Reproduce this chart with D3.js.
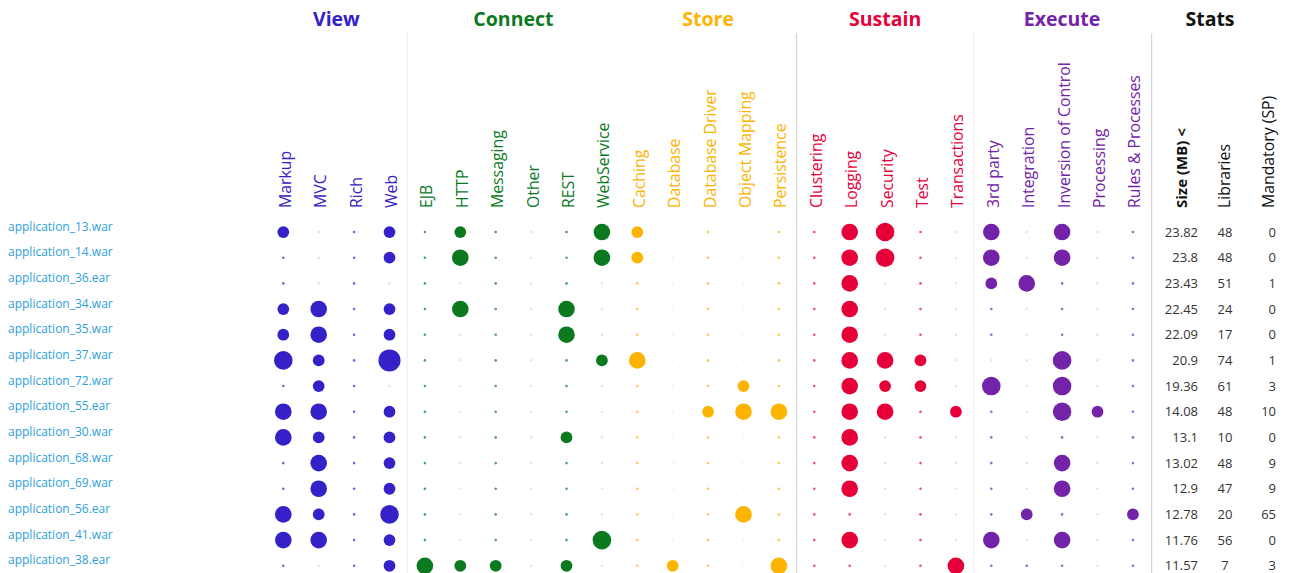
<!DOCTYPE html>
<html>
<head>
<meta charset="utf-8">
<script src="https://cdn.jsdelivr.net/npm/d3@7"></script>
<style>
  body { margin: 0; background: #fff; }
  text { font-family: "Open Sans", sans-serif; }
  .stat { font-family: "Liberation Sans Narrow", "Open Sans", sans-serif; }
</style>
</head>
<body>
<div id="chart"></div>
<script>
const $ = (element) => d3.select(element);

const groups = ["View", "Connect", "Store", "Sustain", "Execute"];
const groupColors = ["#3421c8", "#0b7a1f", "#fcb400", "#e6003a", "#7323a8"];
const groupColumns = [
  ["Markup", "MVC", "Rich", "Web"],
  ["EJB", "HTTP", "Messaging", "Other", "REST", "WebService"],
  ["Caching", "Database", "Database Driver", "Object Mapping", "Persistence"],
  ["Clustering", "Logging", "Security", "Test", "Transactions"],
  ["3rd party", "Integration", "Inversion of Control", "Processing", "Rules & Processes"],
];

const apps = [
  "application_13.war", "application_14.war", "application_36.ear", "application_34.war",
  "application_35.war", "application_37.war", "application_72.war", "application_55.ear",
  "application_30.war", "application_68.war", "application_69.war", "application_56.ear",
  "application_41.war", "application_38.ear",
];
const sizeMB = [23.82, 23.8, 23.43, 22.45, 22.09, 20.9, 19.36, 14.08, 13.1, 13.02, 12.9, 12.78, 11.76, 11.57];
const libraries = [48, 48, 51, 24, 17, 74, 61, 48, 10, 48, 47, 20, 56, 7];
const mandatory = [0, 0, 1, 0, 0, 1, 3, 10, 0, 9, 9, 65, 0, 3];

// libraries found per category, one list per application (null = category not scanned)
const _ = null;
const usage = [
  [2, _, 0, 2, 0, 2, 0, _, 0, 4, 2, _, 0, _, 0, 0, 4, 5, 0, _, 4, _, 4, _, 0],
  [0, _, 0, 2, 0, 4, 0, _, 0, 4, 2, _, 0, _, 0, 0, 4, 5, 0, _, 4, _, 4, _, 0],
  [0, _, 0, _, 0, _, 0, _, 0, _, 0, _, 0, _, 0, 0, 4, _, 0, _, 2, 4, 0, _, 0],
  [2, 4, 0, 2, 0, 4, 0, _, 4, _, 0, _, 0, _, 0, 0, 4, _, 0, _, 0, _, 0, _, 0],
  [2, 4, 0, 2, 0, _, 0, _, 4, _, 0, _, 0, _, 0, 0, 4, _, 0, _, 0, _, 0, _, 0],
  [5, 2, 0, 7, 0, _, 0, _, 0, 2, 4, _, 0, _, 0, 0, 4, 4, 2, _, _, _, 5, _, 0],
  [0, 2, 0, _, 0, _, 0, _, 0, _, 0, _, 0, 2, 0, 0, 4, 2, 2, _, 5, _, 5, _, 0],
  [4, 4, 0, 2, 0, _, 0, _, 0, _, 0, _, 2, 4, 4, 0, 4, 4, 0, 2, 0, _, 5, 2, 0],
  [4, 2, 0, 2, 0, _, 0, _, 2, _, 0, _, 0, _, 0, 0, 4, _, 0, _, 0, _, 0, _, 0],
  [0, 4, 0, 2, 0, _, 0, _, 0, _, 0, _, 0, _, 0, 0, 4, _, 0, _, 0, _, 4, _, 0],
  [0, 4, 0, 2, 0, _, 0, _, 0, _, 0, _, 0, _, 0, 0, 4, _, 0, _, 0, _, 4, _, 0],
  [4, 2, 0, 5, 0, _, 0, _, 0, _, 0, _, 0, 4, 0, 0, 0, _, 0, _, 0, 2, 0, _, 2],
  [4, 4, 0, 2, 0, _, 0, _, 0, 5, 0, _, 0, _, 0, 0, 4, _, 0, _, 4, _, 4, _, 0],
  [0, _, 0, 2, 4, 2, 2, _, 2, _, 0, 2, 0, _, 4, 0, 0, _, 0, 4, 0, 0, 0, _, 0],
];

const width = 1293;
const height = 573;

const columns = groupColumns.flatMap((cols, g) => cols.map((name) => ({ name, group: g })));

const x = d3.scaleBand().domain(columns.map((c) => c.name)).range([265.6, 1150.6]);
const y = d3.scaleBand().domain(apps).range([219.2, 578.6]);
const r = d3.scaleSqrt().domain([0, 7]).range([0, 11]);

const svg = $("#chart")
  .append("svg")
  .attr("width", width)
  .attr("height", height)
  .attr("viewBox", [0, 0, width, height]);

const cx = (name) => x(name) + x.bandwidth() / 2;
const cy = (app) => y(app) + y.bandwidth() / 2;

// group separators
const separators = [
  { at: x("EJB"), color: "#f0f0f0" },
  { at: x("Clustering"), color: "#d6d6d6" },
  { at: x("3rd party"), color: "#eeeeee" },
  { at: x.range()[1] + 1, color: "#d6d6d6" },
];
svg
  .selectAll("line.sep")
  .data(separators)
  .join("line")
  .attr("class", "sep")
  .attr("x1", (d) => d.at)
  .attr("x2", (d) => d.at)
  .attr("y1", 33)
  .attr("y2", height)
  .attr("stroke", (d) => d.color)
  .attr("stroke-width", 1.2);

// group titles
svg
  .selectAll("text.group")
  .data(groups)
  .join("text")
  .attr("class", "group")
  .attr("x", (g, i) => {
    const cols = groupColumns[i];
    return (cx(cols[0]) + cx(cols[cols.length - 1])) / 2;
  })
  .attr("y", 26)
  .attr("text-anchor", "middle")
  .attr("font-size", 19.5)
  .attr("font-weight", "bold")
  .attr("fill", (g, i) => groupColors[i])
  .text((g) => g);

svg
  .append("text")
  .attr("x", 1210)
  .attr("y", 26)
  .attr("text-anchor", "middle")
  .attr("font-size", 19.5)
  .attr("font-weight", "bold")
  .attr("fill", "#111")
  .text("Stats");

// column labels
svg
  .selectAll("text.col")
  .data(columns)
  .join("text")
  .attr("class", "col")
  .attr("transform", (d) => `translate(${cx(d.name) + 2},208) rotate(-90)`)
  .attr("dy", "0.35em")
  .attr("font-size", 15.8)
  .attr("fill", (d) => groupColors[d.group])
  .text((d) => d.name);

// application names
svg
  .selectAll("text.app")
  .data(apps)
  .join("text")
  .attr("class", "app")
  .attr("x", 8)
  .attr("y", (d) => cy(d) - 1.5)
  .attr("font-size", 12)
  .attr("fill", "#2d9fd9")
  .text((d) => d);

// dots
const cells = apps.flatMap((app, i) =>
  columns.map((col, j) => ({ app, col, value: usage[i][j] }))
);
svg
  .append("g")
  .selectAll("circle")
  .data(cells)
  .join("circle")
  .attr("cx", (d) => cx(d.col.name))
  .attr("cy", (d) => cy(d.app))
  .attr("r", (d) => (d.value ? r(d.value) : 1.3))
  .attr("fill", (d) => groupColors[d.col.group])
  .attr("opacity", (d) => (d.value === null ? 0.15 : d.value === 0 ? 0.7 : 1));

// stats headers (the size column is the sorted one)
const statHeaders = [
  { label: "Size (MB) <", x: 1187, bold: true },
  { label: "Libraries", x: 1230, bold: false },
  { label: "Mandatory (SP)", x: 1274, bold: false },
];
svg
  .selectAll("text.stathead")
  .data(statHeaders)
  .join("text")
  .attr("class", "stathead")
  .attr("transform", (d) => `translate(${d.x},208) rotate(-90)`)
  .attr("font-size", (d) => (d.bold ? 15 : 15.8))
  .attr("font-weight", (d) => (d.bold ? "bold" : "normal"))
  .attr("fill", "#111")
  .text((d) => d.label);

// stats values
const statCols = [
  { values: sizeMB, x: 1198, anchor: "end" },
  { values: libraries, x: 1225, anchor: "middle" },
  { values: mandatory, x: 1276, anchor: "end" },
];
statCols.forEach((sc) => {
  svg
    .append("g")
    .selectAll("text")
    .data(apps)
    .join("text")
    .attr("class", "stat")
    .attr("x", sc.x)
    .attr("y", (d) => cy(d))
    .attr("dy", "0.35em")
    .attr("text-anchor", sc.anchor)
    .attr("font-size", 13)
    .attr("fill", "#333")
    .text((d, i) => sc.values[i]);
});
</script>
</body>
</html>
